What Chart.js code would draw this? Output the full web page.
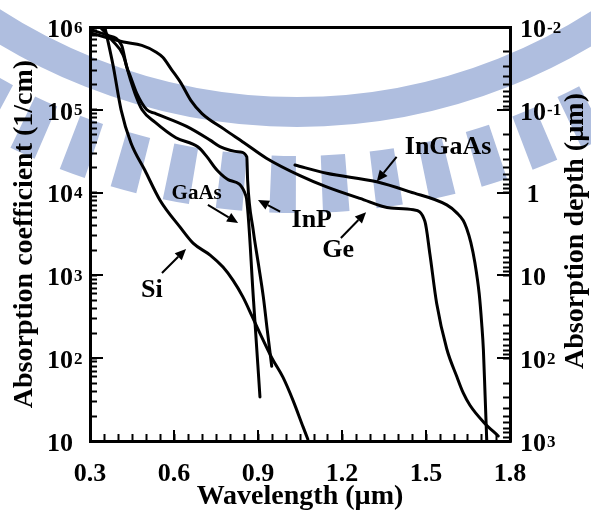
<!DOCTYPE html>
<html>
<head>
<meta charset="utf-8">
<script src="https://cdn.jsdelivr.net/npm/chart.js@4/dist/chart.umd.min.js"></script>
<style>
  html, body { margin: 0; padding: 0; background: #fff; }
  canvas { display: block; }
</style>
</head>
<body>
<canvas id="chart" width="591" height="511"></canvas>
<script>
// absorption coefficient (1/cm) against wavelength (um)
const siWavelength = [0.353, 0.382, 0.411, 0.446, 0.496, 0.55, 0.621, 0.668, 0.729, 0.775, 0.811, 0.846, 0.879, 0.907, 0.95, 0.989, 1.025, 1.061, 1.078];
const siAlpha = [1.0e6, 3.5e5, 1.0e5, 4.0e4, 1.86e4, 8.1e3, 3.85e3, 2.45e3, 1.76e3, 1.26e3, 870, 550, 320, 200, 100, 59, 31, 14.8, 10.5];

const gaasWavelength = [0.336, 0.379, 0.418, 0.443, 0.464, 0.486, 0.532, 0.607, 0.686, 0.718, 0.754, 0.80, 0.857, 0.884, 0.907];
const gaasAlpha = [1.0e6, 6.9e5, 4.6e5, 2.4e5, 1.47e5, 1.0e5, 7.1e4, 4.6e4, 3.55e4, 2.7e4, 1.86e4, 1.4e4, 9.1e3, 500, 34];

const inpWavelength = [0.306, 0.36, 0.413, 0.431, 0.443, 0.467, 0.503, 0.531, 0.645, 0.729, 0.764, 0.836, 0.86, 0.863, 0.883, 0.901, 0.919, 0.933, 0.949];
const inpAlpha = [9.2e5, 8.0e5, 6.0e5, 3.3e5, 2.6e5, 1.58e5, 1.0e5, 9.1e4, 6.3e4, 4.3e4, 3.6e4, 3.1e4, 2.7e4, 1.4e4, 3.5e3, 1.4e3, 550, 220, 80];

const geWavelength = [0.306, 0.37, 0.42, 0.485, 0.535, 0.56, 0.59, 0.625, 0.66, 0.70, 0.78, 0.85, 0.93, 1.05, 1.145, 1.264, 1.375, 1.455, 1.496, 1.514, 1.538, 1.574, 1.61, 1.633, 1.657, 1.705, 1.758];
const geAlpha = [8.4e5, 7.3e5, 6.6e5, 6.0e5, 5.0e5, 4.3e5, 3.1e5, 2.1e5, 1.3e5, 9.0e4, 5.8e4, 4.0e4, 2.6e4, 1.6e4, 1.17e4, 8.5e3, 6.5e3, 6.2e3, 4.5e3, 1.8e3, 460, 130, 60, 38, 27, 17, 11.5];

const ingaasWavelength = [1.032, 1.145, 1.324, 1.443, 1.574, 1.61, 1.633, 1.645, 1.66, 1.675, 1.69, 1.699, 1.705, 1.711, 1.717];
const ingaasAlpha = [2.15e4, 1.71e4, 1.35e4, 1.02e4, 7.1e3, 5.7e3, 4.6e3, 3.7e3, 2.5e3, 1.4e3, 600, 260, 126, 36, 10];

// axes
const xTickLabels = ['0.3', '0.6', '0.9', '1.2', '1.5', '1.8'];
const alphaDecades = [10, 1e2, 1e3, 1e4, 1e5, 1e6];
const alphaBases = ['10', '10', '10', '10', '10', '10'];
const alphaExponents = ['', '2', '3', '4', '5', '6'];
const depthDecades = [0.01, 0.1, 1, 10, 100, 1000];
const depthBases = ['10', '10', '1', '10', '10', '10'];
const depthExponents = ['-2', '-1', '', '', '2', '3'];

// curve names and their arrows, in (wavelength, alpha)
const labelNames = ['Si', 'GaAs', 'InP', 'Ge', 'InGaAs'];
const labelWavelength = [0.521, 0.681, 1.092, 1.186, 1.579];
const labelAlpha = [661, 9.6e3, 4.67e3, 2.03e3, 3.5e4];
const arrowFrom = [[0.557, 1070], [0.721, 7100], [0.979, 5900], [1.196, 2830], [1.395, 2.7e4]];
const arrowTo = [[0.643, 2080], [0.829, 4300], [0.900, 8150], [1.286, 5800], [1.324, 1.36e4]];

const serif = '"Liberation Serif", "Times New Roman", Times, serif';
const TICK_IN = 7;      // minor ticks point into the plot
const MAJOR_IN = 13;
const LABEL_SHIFT = 3;

function decadeTicks(fromExp, toExp) {
  let list = [];
  for (let e = fromExp; e < toExp; e++) {
    for (let m = 1; m <= 9; m++) {
      list.push({ value: Number((m * Math.pow(10, e)).toPrecision(3)), major: m === 1 });
    }
  }
  list.push({ value: Math.pow(10, toExp), major: true });
  return list;
}

function isXMajor(v) {
  return xTickLabels.indexOf(v.toFixed(1)) >= 0 && Math.abs(v * 10 - Math.round(v * 10)) < 1e-6;
}

function series(wl, alpha) {
  return wl.map((x, i) => ({ x: x, y: alpha[i] }));
}

function lineSet(wl, alpha) {
  return {
    data: series(wl, alpha),
    borderColor: '#000',
    borderWidth: 3,
    pointRadius: 0,
    fill: false,
    cubicInterpolationMode: 'monotone',
    borderJoinStyle: 'round',
    borderCapStyle: 'round'
  };
}

// fixed box sizes, and no extra room for the end labels
function fixBox(w, h) {
  return (s) => {
    if (w !== null) s.width = w;
    if (h !== null) s.height = h;
    s.paddingTop = 0;
    s.paddingBottom = 0;
    s.paddingLeft = 0;
    s.paddingRight = 0;
  };
}

const paperPlugin = {
  id: 'paper',
  beforeDraw(chart) {
    const ctx = chart.ctx;
    ctx.save();
    ctx.fillStyle = '#fff';
    ctx.fillRect(0, 0, chart.width, chart.height);
    // pale logo watermark behind the figure
    const cx = 297, cy = -449;
    ctx.strokeStyle = '#afbedf';
    ctx.fillStyle = '#afbedf';
    ctx.lineWidth = 30;
    ctx.beginPath();
    ctx.arc(cx, cy, 561, 0, Math.PI);
    ctx.stroke();
    const hw = 1.15 * Math.PI / 180;
    for (let k = -8; k <= 8; k++) {
      const a = Math.PI / 2 + (1.25 - 4.65 * k) * Math.PI / 180;
      ctx.beginPath();
      ctx.arc(cx, cy, 662, a - hw, a + hw);
      ctx.arc(cx, cy, 605, a + hw, a - hw, true);
      ctx.closePath();
      ctx.fill();
    }
    ctx.restore();
  },
  afterDatasetsDraw(chart) {
    const ctx = chart.ctx;
    const xs = chart.scales.x, ys = chart.scales.y;
    ctx.save();
    ctx.fillStyle = '#000';
    ctx.strokeStyle = '#000';
    ctx.textAlign = 'center';
    ctx.textBaseline = 'middle';
    labelNames.forEach((name, i) => {
      let size = name === 'GaAs' ? 21 : 26;
      ctx.font = 'bold ' + size + 'px ' + serif;
      ctx.fillText(name, xs.getPixelForValue(labelWavelength[i]), ys.getPixelForValue(labelAlpha[i]));
    });
    ctx.lineWidth = 2;
    arrowFrom.forEach((from, i) => {
      const x1 = xs.getPixelForValue(from[0]), y1 = ys.getPixelForValue(from[1]);
      const x2 = xs.getPixelForValue(arrowTo[i][0]), y2 = ys.getPixelForValue(arrowTo[i][1]);
      const ang = Math.atan2(y2 - y1, x2 - x1);
      const head = 11, half = 5;
      const bx = x2 - head * Math.cos(ang), by = y2 - head * Math.sin(ang);
      ctx.beginPath();
      ctx.moveTo(x1, y1);
      ctx.lineTo(bx, by);
      ctx.stroke();
      ctx.beginPath();
      ctx.moveTo(x2, y2);
      ctx.lineTo(bx + half * Math.sin(ang), by - half * Math.cos(ang));
      ctx.lineTo(bx - half * Math.sin(ang), by + half * Math.cos(ang));
      ctx.closePath();
      ctx.fill();
    });
    ctx.restore();
  },
  afterDraw(chart) {
    const ctx = chart.ctx;
    const xs = chart.scales.x, ys = chart.scales.y, ds = chart.scales.y2;
    const area = chart.chartArea;
    ctx.save();
    ctx.strokeStyle = '#000';
    ctx.lineWidth = 2;
    // longer ticks at the labelled values
    ctx.beginPath();
    xs.ticks.forEach(t => {
      if (!isXMajor(t.value)) return;
      const px = Math.round(xs.getPixelForValue(t.value));
      ctx.moveTo(px, area.bottom);
      ctx.lineTo(px, area.bottom - 11);
    });
    ys.ticks.forEach(t => {
      if (!t.major) return;
      const py = Math.round(ys.getPixelForValue(t.value));
      ctx.moveTo(area.left, py);
      ctx.lineTo(area.left + MAJOR_IN, py);
    });
    ds.ticks.forEach(t => {
      if (!t.major) return;
      const py = Math.round(ds.getPixelForValue(t.value));
      ctx.moveTo(area.right, py);
      ctx.lineTo(area.right - MAJOR_IN, py);
    });
    ctx.stroke();

    // powers of ten next to the "10" tick labels
    ctx.fillStyle = '#000';
    ctx.textBaseline = 'alphabetic';
    ctx.textAlign = 'left';
    ctx.font = 'bold 26px ' + serif;
    const baseWidth = ctx.measureText('10').width;
    ctx.font = 'bold 17px ' + serif;
    const leftEdge = area.left - (ys.options.ticks.padding - TICK_IN);
    alphaDecades.forEach((v, i) => {
      if (!alphaExponents[i]) return;
      const py = ys.getPixelForValue(v) + LABEL_SHIFT;
      ctx.fillText(alphaExponents[i], leftEdge + 1, py + 2.5);
    });
    const rightEdge = area.right + (ds.options.ticks.padding - TICK_IN) + baseWidth;
    depthDecades.forEach((v, i) => {
      if (!depthExponents[i]) return;
      const py = ds.getPixelForValue(v) + LABEL_SHIFT;
      ctx.fillText(depthExponents[i], rightEdge + 1, py + 2.5);
    });

    // right axis title reads upwards like the left one
    ctx.font = 'bold 28px ' + serif;
    ctx.textAlign = 'center';
    ctx.textBaseline = 'middle';
    ctx.translate(chart.width - 15, (area.top + area.bottom) / 2 - 3);
    ctx.rotate(-Math.PI / 2);
    ctx.fillText('Absorption depth (\u00b5m)', 0, 0);
    ctx.restore();
  }
};

const tickFont = { family: serif, size: 26, weight: 'bold' };
const tickGrid = {
  drawOnChartArea: false,
  drawTicks: true,
  tickLength: -TICK_IN,
  tickWidth: 2,
  tickColor: '#000'
};
const axisBorder = { display: true, color: '#000', width: 3 };

let chart = new Chart(document.getElementById('chart'), {
  type: 'line',
  data: {
    datasets: [
      lineSet(siWavelength, siAlpha),
      lineSet(gaasWavelength, gaasAlpha),
      lineSet(inpWavelength, inpAlpha),
      lineSet(geWavelength, geAlpha),
      lineSet(ingaasWavelength, ingaasAlpha)
    ]
  },
  options: {
    responsive: false,
    animation: false,
    layout: { padding: 0 },
    plugins: {
      legend: { display: false },
      tooltip: { enabled: false }
    },
    scales: {
      x: {
        type: 'linear',
        position: 'bottom',
        min: 0.3,
        max: 1.8,
        afterFit: fixBox(null, 70),
        ticks: {
          stepSize: 0.05,
          autoSkip: false,
          maxRotation: 0,
          minRotation: 0,
          padding: 25,
          color: '#000',
          font: tickFont,
          callback: (v) => isXMajor(v) ? v.toFixed(1) : ''
        },
        grid: tickGrid,
        border: axisBorder,
        title: {
          display: true,
          text: 'Wavelength (\u00b5m)',
          color: '#000',
          font: { family: serif, size: 28, weight: 'bold' },
          padding: { top: 0, bottom: -3 }
        }
      },
      xTop: {
        type: 'linear',
        position: 'top',
        min: 0.3,
        max: 1.8,
        afterFit: fixBox(null, 27),
        ticks: { display: false },
        grid: { display: false },
        border: axisBorder
      },
      y: {
        type: 'logarithmic',
        position: 'left',
        min: 10,
        max: 1e6,
        afterFit: fixBox(90, null),
        afterBuildTicks: (s) => { s.ticks = decadeTicks(1, 6); },
        ticks: {
          autoSkip: false,
          padding: 24,
          labelOffset: LABEL_SHIFT,
          color: '#000',
          font: tickFont,
          callback: (v) => {
            let i = alphaDecades.indexOf(v);
            return i >= 0 ? alphaBases[i] : '';
          }
        },
        grid: tickGrid,
        border: axisBorder,
        title: {
          display: true,
          text: 'Absorption coefficient (1/cm)',
          color: '#000',
          font: { family: serif, size: 28, weight: 'bold' },
          padding: { top: 8, bottom: 0 }
        }
      },
      y2: {
        type: 'logarithmic',
        position: 'right',
        reverse: true,
        min: 0.01,
        max: 1000,
        afterFit: fixBox(81, null),
        afterBuildTicks: (s) => { s.ticks = decadeTicks(-2, 3); },
        ticks: {
          autoSkip: false,
          padding: 17,
          labelOffset: LABEL_SHIFT,
          crossAlign: 'center',
          color: '#000',
          font: tickFont,
          callback: (v) => {
            let i = depthDecades.indexOf(v);
            return i >= 0 ? depthBases[i] : '';
          }
        },
        grid: tickGrid,
        border: axisBorder
      }
    }
  },
  plugins: [paperPlugin]
});
</script>
</body>
</html>
